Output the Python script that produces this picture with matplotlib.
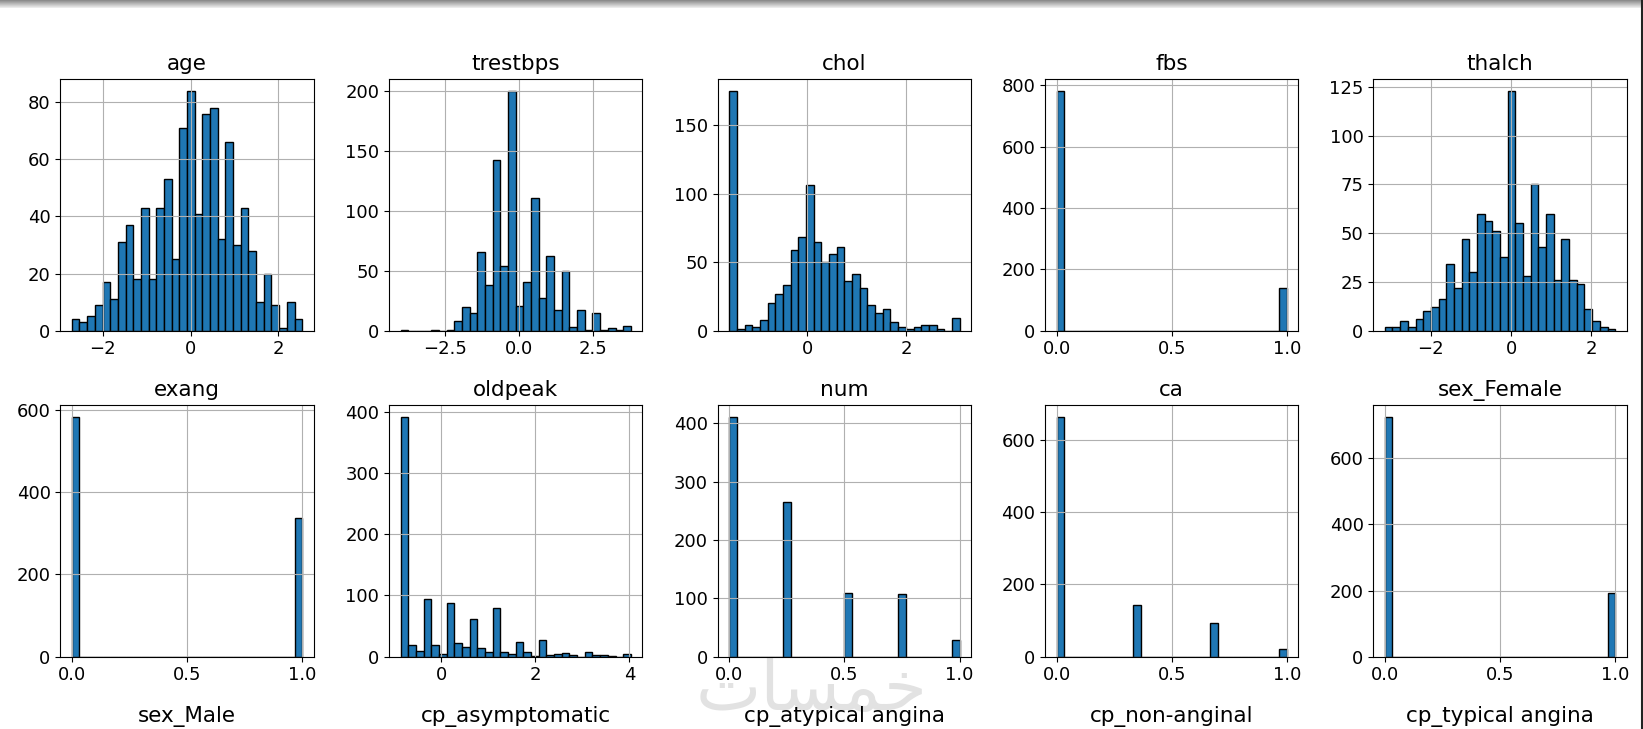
import numpy as np
import matplotlib
matplotlib.use("Agg")
import matplotlib.pyplot as plt
from matplotlib.ticker import MaxNLocator

# histogram counts (30 bins each)
age_counts = [4, 3, 5, 9, 17, 11, 31, 37, 18, 43, 18, 43, 53, 25, 71,
              84, 41, 76, 78, 32, 66, 30, 43, 28, 10, 20, 9, 1, 10, 4]
trestbps_counts = [1, 0, 0, 0, 1, 0, 1, 8, 20, 15, 66, 38, 142, 54, 200,
                   21, 41, 111, 27, 62, 17, 50, 3, 17, 1, 15, 1, 2, 1, 4]
chol_counts = [175, 1, 4, 3, 8, 20, 27, 33, 59, 68, 106, 65, 50, 56, 61,
               36, 41, 31, 19, 13, 16, 6, 3, 1, 3, 4, 4, 1, 0, 9]
fbs_counts = [782] + [0] * 28 + [138]
thalch_counts = [2, 2, 5, 2, 6, 10, 12, 16, 34, 22, 47, 30, 60, 56, 51,
                 38, 123, 55, 28, 75, 43, 60, 26, 47, 26, 24, 11, 5, 2, 1]
exang_counts = [583] + [0] * 28 + [337]
oldpeak_counts = [392, 19, 10, 94, 19, 4, 87, 22, 16, 61, 15, 7, 79, 7, 4,
                  24, 7, 1, 27, 2, 4, 6, 2, 0, 8, 2, 2, 1, 0, 4]
num_counts = [0] * 30
num_counts[0], num_counts[7], num_counts[15], num_counts[22], num_counts[29] = 411, 265, 109, 107, 28
ca_counts = [0] * 30
ca_counts[0], ca_counts[10], ca_counts[20], ca_counts[29] = 663, 144, 93, 20
sex_female_counts = [726] + [0] * 28 + [194]

# (min, max) of each scaled column
ranges = {
    "age": (-2.70, 2.54),
    "trestbps": (-4.02, 3.77),
    "chol": (-1.59, 3.09),
    "fbs": (0.0, 1.0),
    "thalch": (-3.14, 2.59),
    "exang": (0.0, 1.0),
    "oldpeak": (-0.86, 4.03),
    "num": (0.0, 1.0),
    "ca": (0.0, 1.0),
    "sex_Female": (0.0, 1.0),
}
columns = ["age", "trestbps", "chol", "fbs", "thalch",
           "exang", "oldpeak", "num", "ca", "sex_Female"]
counts = [age_counts, trestbps_counts, chol_counts, fbs_counts, thalch_counts,
          exang_counts, oldpeak_counts, num_counts, ca_counts, sex_female_counts]
# third row is cut off in the screenshot, only the titles show
hidden_row = ["sex_Male", "cp_asymptomatic", "cp_atypical angina",
              "cp_non-anginal", "cp_typical angina"]

W, H = 1643, 729
fig = plt.figure(figsize=(W / 100, H / 100), dpi=100)

col_left = [60.3, 389.0, 717.7, 1045.0, 1373.3]
row_top = [78.7, 404.7, 730.7]
aw, ah = 253.4, 252.0
nice = [1, 2, 2.5, 5, 10]


def make_ax(r, c):
    x0 = col_left[c] / W
    y0 = (H - row_top[r] - ah) / H
    return fig.add_axes([x0, y0, aw / W, ah / H])


for i, (name, cnt) in enumerate(zip(columns, counts)):
    ax = make_ax(i // 5, i % 5)
    lo, hi = ranges[name]
    edges = np.linspace(lo, hi, len(cnt) + 1)
    ax.bar(edges[:-1], cnt, width=np.diff(edges), align="edge",
           color="#1f77b4", edgecolor="black", linewidth=1.0)
    ax.grid(True, color="#b0b0b0", linewidth=0.8)
    ax.set_title(name, fontsize=15.5)
    ax.xaxis.set_major_locator(MaxNLocator(nbins=4, steps=nice))
    ax.yaxis.set_major_locator(MaxNLocator(nbins=6, steps=nice))
    ax.tick_params(labelsize=13)
    ax.patch.set_alpha(0)

for c, name in enumerate(hidden_row):
    ax = make_ax(2, c)
    ax.set_title(name, fontsize=15.5)
    ax.set_xticks([])
    ax.set_yticks([])
    ax.patch.set_alpha(0)

# faint watermark (pre-shaped arabic glyphs, visual order), kept behind the texts
fig.text(812 / W, 1 - 690 / H, "\uFE95\uFE8E\uFEB4\uFEE4\uFEA7",
         fontsize=50, color="#e2e2e2", ha="center", va="center",
         family="DejaVu Sans", zorder=-1)

# screenshot frame: grey band on top, dark line on the right
band = fig.add_axes([0, 1 - 8 / H, 1, 8 / H])
band.imshow(np.linspace(0.55, 0.92, 8).reshape(-1, 1), cmap="gray",
            vmin=0, vmax=1, aspect="auto", extent=[0, 1, 0, 1])
band.axis("off")
fig.add_artist(plt.Line2D([1641.5 / W, 1641.5 / W], [0, 1], color="#222222",
                          linewidth=1.5, transform=fig.transFigure))

fig.savefig("out.png", dpi=100)
